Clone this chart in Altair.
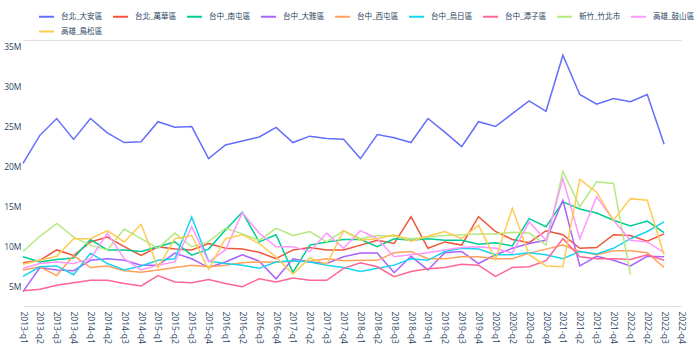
import altair as alt
import pandas as pd

quarters = [f"{y}-q{q}" for y in range(2013, 2023) for q in range(1, 5)]

series_names = ["台北_大安區", "台北_萬華區", "台中_南屯區", "台中_大雅區", "台中_西屯區",
                "台中_烏日區", "台中_潭子區", "新竹_竹北市", "高雄_鼓山區", "高雄_鳥松區"]
colors = ["#636efa", "#EF553B", "#00cc96", "#ab63fa", "#FFA15A",
          "#19d3f3", "#FF6692", "#B6E880", "#FF97FF", "#FECB52"]

# values in millions, 2013-q1 .. 2022-q3 (None = no data)
daan = [20.4, 23.9, 26.0, 23.4, 26.0, 24.2, 23.0, 23.1, 25.6, 24.9, 25.0, 21.0, 22.7, 23.2,
        23.7, 24.9, 23.0, 23.8, 23.5, 23.4, 21.0, 24.0, 23.6, 23.0, 26.0, 24.3, 22.5, 25.6,
        25.0, 26.6, 28.2, 26.9, 33.9, 29.0, 27.8, 28.5, 28.1, 29.0, 22.8]
wanhua = [8.0, 8.3, 9.6, 8.9, 10.6, 11.2, 10.0, 8.9, 10.0, 9.7, 9.6, 10.4, 9.8, 9.7,
          9.3, 8.5, 9.6, 9.9, 9.6, 9.6, 10.2, 10.8, 10.4, 13.75, 9.8, 10.6, 10.2, 13.75,
          11.9, 10.9, 10.5, 12.0, 11.5, 9.8, 9.9, 11.5, 11.4, 10.7, 11.6]
nantun = [8.75, 8.1, 8.4, 8.6, 10.9, 9.6, 9.6, 9.4, 10.0, 10.6, 8.95, 9.7, 12.1, 14.3,
          10.6, 11.5, 6.8, 10.2, 10.6, 10.9, 10.9, 10.0, 11.0, 10.8, 11.0, 10.8, 10.8, 10.3,
          10.5, 10.1, 13.5, 12.5, 15.6, 14.7, 14.2, 13.3, 12.6, 13.2, 11.75]
daya = [4.4, 7.4, 7.1, 7.0, 8.3, 8.5, 8.3, 7.7, 7.7, 9.2, 8.5, 7.4, 8.1, 9.0,
        8.2, 6.0, 8.5, 8.1, 7.9, 8.75, 9.2, 9.2, 6.75, 8.8, 7.1, 9.25, 9.4, 7.9,
        9.0, 9.8, 10.4, 10.8, 15.8, 7.6, 8.8, 8.3, 7.6, 8.8, 8.75]
xitun = [7.1, 7.5, 6.4, 8.9, 7.4, 7.6, 7.0, 6.8, 7.1, 7.4, 7.7, 7.5, 7.7, 8.0,
         8.1, 8.1, 8.2, 8.2, 8.5, 8.25, 8.3, 8.3, 9.25, 9.4, 8.5, 8.5, 8.75, 8.75,
         8.5, 8.5, 9.2, 9.7, 10.2, 9.4, 9.0, 9.5, 9.5, 9.25, 7.4]
wuri = [6.3, 7.5, 7.6, 6.5, 9.2, 7.9, 7.1, 7.6, 8.3, 8.5, 13.7, 8.2, 7.9, 7.7,
        7.3, 8.1, 8.25, 8.1, 7.7, 7.4, 6.9, 7.3, 7.7, 8.5, 8.3, 9.4, 9.8, 9.7,
        9.0, 9.0, 9.25, 9.0, 8.5, 9.4, 9.1, 9.8, 11.0, 11.9, 13.1]
tanzi = [4.5, 4.7, 5.2, 5.5, 5.8, 5.8, 5.4, 5.1, 6.4, 5.6, 5.5, 5.9, 5.4, 5.0,
         6.0, 5.6, 6.1, 5.8, 5.8, 7.3, 8.0, 7.5, 6.25, 6.9, 7.25, 7.4, 7.8, 7.7,
         6.3, 7.4, 7.5, 8.25, 11.0, 8.75, 8.5, 8.5, 8.4, 9.0, 8.3]
zhubei = [9.4, 11.3, 12.9, 11.2, 10.2, 9.6, 12.2, 11.0, 9.8, 11.7, 10.0, 10.6, 12.3, 11.6,
          10.8, 12.3, 11.4, 11.9, 10.6, 12.0, 11.0, 11.4, 11.3, 11.0, 11.2, 11.4, 11.5, 11.6,
          11.6, 11.8, 11.7, 10.2, 19.4, 15.0, 18.1, 17.9, 6.5, None, None]
gushan = [7.3, 7.9, 8.1, 7.9, 8.5, 11.7, 8.5, 7.1, 7.7, 8.1, 12.5, 8.1, 9.6, 14.25,
          11.7, 10.0, 10.0, 9.4, 11.7, 9.8, 12.0, 11.0, 8.75, 9.0, 9.25, 9.6, 9.9, 10.0,
          9.8, 9.2, 13.1, 10.8, 18.5, 11.0, 16.25, 13.3, 10.8, 10.6, 9.25]
niaosong = [7.8, 8.3, 8.8, 11.0, 11.0, 12.0, 10.6, 12.8, 7.4, 11.0, 11.4, 7.2, 11.0, 11.5,
            10.4, 8.7, 6.6, 8.6, 7.8, 12.0, 10.8, 11.0, 11.5, 10.7, 11.3, 11.9, 11.0, 12.7,
            8.4, 14.8, 9.0, 7.6, 7.5, 18.4, 16.8, 13.3, 16.0, 15.8, 9.0]

all_values = [daan, wanhua, nantun, daya, xitun, wuri, tanzi, zhubei, gushan, niaosong]

rows = []
for si, (name, vals) in enumerate(zip(series_names, all_values)):
    for qi, v in enumerate(vals):
        if v is not None:
            rows.append({"quarter": quarters[qi], "value": v, "series": name, "order": si})
df = pd.DataFrame(rows)

FONT = "Open Sans, Noto Sans CJK TC"

chart = alt.Chart(df).mark_line(strokeWidth=1.5).encode(
    x=alt.X("quarter:N", sort=quarters,
            scale=alt.Scale(domain=quarters, padding=0),
            axis=alt.Axis(title=None, labelAngle=90, labelPadding=5, ticks=False,
                          domain=False, grid=True, gridColor="white", gridWidth=1,
                          labelFontSize=8.5, labelColor="#2a3f5f", labelFont=FONT)),
    y=alt.Y("value:Q", scale=alt.Scale(domain=[2.6, 35.8], nice=False, zero=False),
            axis=alt.Axis(title=None, values=[5, 10, 15, 20, 25, 30, 35],
                          labelExpr="datum.value + 'M'", ticks=False, domain=False,
                          labelPadding=2, grid=True, gridColor="white", gridWidth=1,
                          labelFontSize=8.5, labelColor="#2a3f5f", labelFont=FONT)),
    color=alt.Color("series:N", sort=series_names,
                    scale=alt.Scale(domain=series_names, range=colors),
                    legend=alt.Legend(title=None, orient="none", legendX=15, legendY=-32,
                                      direction="horizontal", columns=9,
                                      symbolType="stroke", symbolSize=225,
                                      symbolStrokeWidth=2, labelOffset=6,
                                      columnPadding=6, rowPadding=2, padding=0,
                                      labelFontSize=7.6, labelColor="#2a3f5f",
                                      labelFont=FONT)),
    detail="series:N",
    order="order:Q",
).properties(
    width=658, height=266,
    autosize=alt.AutoSizeParams(type="none"),
    padding={"left": 23, "top": 40, "right": 19, "bottom": 44},
).configure_view(fill="#E5ECF6", stroke=None).configure(background="white")

chart.save("out.html", embed_options={"renderer": "svg", "actions": False})
